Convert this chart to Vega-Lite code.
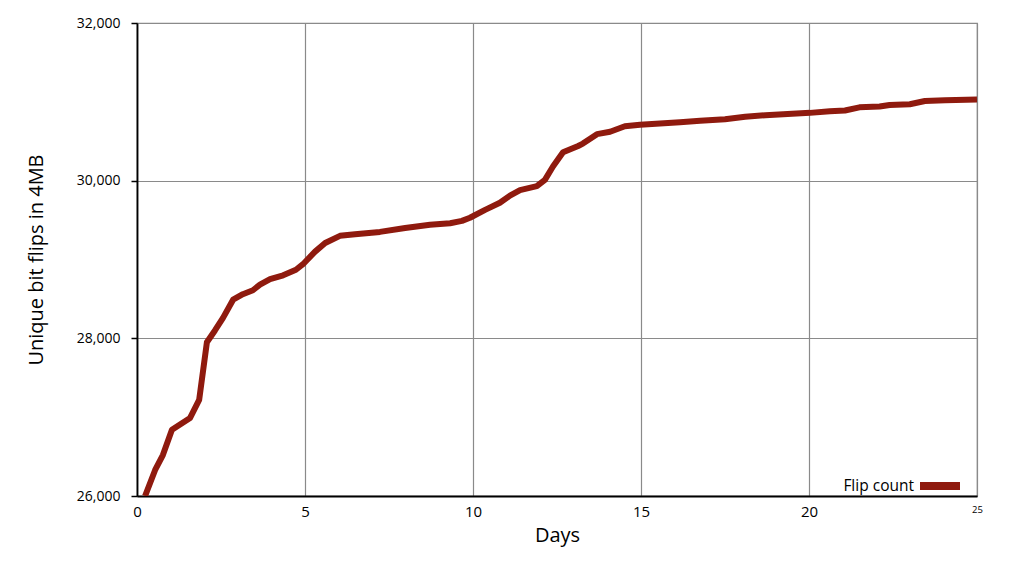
{
  "$schema": "https://vega.github.io/schema/vega-lite/v6.json",
  "width": 840,
  "height": 473,
  "autosize": "none",
  "padding": {"left": 137, "top": 23, "right": 47, "bottom": 79},
  "background": "white",
  "config": {
    "font": "Open Sans",
    "view": {"stroke": "#888888", "strokeWidth": 1.2},
    "axis": {"gridColor": "#8a8a8a", "gridWidth": 1.2, "gridOpacity": 1}
  },
  "data": {
    "values": [
      {"day": 0.24, "flips": 26000, "series": "Flip count"},
      {"day": 0.54, "flips": 26330, "series": "Flip count"},
      {"day": 0.77, "flips": 26520, "series": "Flip count"},
      {"day": 1.04, "flips": 26840, "series": "Flip count"},
      {"day": 1.58, "flips": 26990, "series": "Flip count"},
      {"day": 1.85, "flips": 27220, "series": "Flip count"},
      {"day": 2.08, "flips": 27950, "series": "Flip count"},
      {"day": 2.32, "flips": 28100, "series": "Flip count"},
      {"day": 2.56, "flips": 28260, "series": "Flip count"},
      {"day": 2.86, "flips": 28490, "series": "Flip count"},
      {"day": 3.15, "flips": 28560, "series": "Flip count"},
      {"day": 3.45, "flips": 28610, "series": "Flip count"},
      {"day": 3.66, "flips": 28680, "series": "Flip count"},
      {"day": 3.96, "flips": 28750, "series": "Flip count"},
      {"day": 4.35, "flips": 28800, "series": "Flip count"},
      {"day": 4.73, "flips": 28870, "series": "Flip count"},
      {"day": 4.94, "flips": 28940, "series": "Flip count"},
      {"day": 5.3, "flips": 29100, "series": "Flip count"},
      {"day": 5.6, "flips": 29210, "series": "Flip count"},
      {"day": 6.04, "flips": 29300, "series": "Flip count"},
      {"day": 6.49, "flips": 29320, "series": "Flip count"},
      {"day": 7.23, "flips": 29350, "series": "Flip count"},
      {"day": 7.98, "flips": 29400, "series": "Flip count"},
      {"day": 8.72, "flips": 29440, "series": "Flip count"},
      {"day": 9.32, "flips": 29460, "series": "Flip count"},
      {"day": 9.67, "flips": 29490, "series": "Flip count"},
      {"day": 9.91, "flips": 29530, "series": "Flip count"},
      {"day": 10.36, "flips": 29630, "series": "Flip count"},
      {"day": 10.8, "flips": 29720, "series": "Flip count"},
      {"day": 11.1, "flips": 29810, "series": "Flip count"},
      {"day": 11.4, "flips": 29880, "series": "Flip count"},
      {"day": 11.9, "flips": 29930, "series": "Flip count"},
      {"day": 12.14, "flips": 30010, "series": "Flip count"},
      {"day": 12.38, "flips": 30180, "series": "Flip count"},
      {"day": 12.68, "flips": 30360, "series": "Flip count"},
      {"day": 13.13, "flips": 30440, "series": "Flip count"},
      {"day": 13.27, "flips": 30470, "series": "Flip count"},
      {"day": 13.69, "flips": 30590, "series": "Flip count"},
      {"day": 14.08, "flips": 30620, "series": "Flip count"},
      {"day": 14.52, "flips": 30690, "series": "Flip count"},
      {"day": 14.97, "flips": 30710, "series": "Flip count"},
      {"day": 16.16, "flips": 30740, "series": "Flip count"},
      {"day": 16.76, "flips": 30760, "series": "Flip count"},
      {"day": 17.5, "flips": 30780, "series": "Flip count"},
      {"day": 18.1, "flips": 30810, "series": "Flip count"},
      {"day": 18.7, "flips": 30830, "series": "Flip count"},
      {"day": 20.03, "flips": 30860, "series": "Flip count"},
      {"day": 20.62, "flips": 30880, "series": "Flip count"},
      {"day": 21.07, "flips": 30890, "series": "Flip count"},
      {"day": 21.5, "flips": 30930, "series": "Flip count"},
      {"day": 22.1, "flips": 30940, "series": "Flip count"},
      {"day": 22.4, "flips": 30960, "series": "Flip count"},
      {"day": 23.0, "flips": 30970, "series": "Flip count"},
      {"day": 23.45, "flips": 31010, "series": "Flip count"},
      {"day": 24.05, "flips": 31020, "series": "Flip count"},
      {"day": 25.0, "flips": 31030, "series": "Flip count"}
    ]
  },
  "mark": {"type": "line", "strokeWidth": 6, "strokeJoin": "round", "clip": true},
  "encoding": {
    "x": {
      "field": "day",
      "type": "quantitative",
      "scale": {"domain": [0, 25], "nice": false},
      "axis": {
        "title": "Days",
        "values": [0, 5, 10, 15, 20, 25],
        "format": "d",
        "domainColor": "black",
        "domainWidth": 1.8,
        "ticks": false,
        "labelColor": "black",
        "labelFlush": false,
        "labelFontSize": {"expr": "datum.value == 25 ? 9.5 : 15"},
        "labelPadding": 8,
        "titleFontSize": 20,
        "titleFontWeight": "normal",
        "titleColor": "black",
        "titlePadding": 6
      }
    },
    "y": {
      "field": "flips",
      "type": "quantitative",
      "scale": {"domain": [26000, 32000], "nice": false, "zero": false},
      "axis": {
        "title": "Unique bit flips in 4MB",
        "values": [26000, 28000, 30000, 32000],
        "format": ",d",
        "domainColor": "black",
        "domainWidth": 1.8,
        "tickColor": "black",
        "tickSize": 6,
        "tickWidth": 1.5,
        "labelColor": "black",
        "labelFlush": false,
        "labelFontSize": 14,
        "labelPadding": 11,
        "titleFontSize": 20,
        "titleFontWeight": "normal",
        "titleColor": "black",
        "titlePadding": 30
      }
    },
    "color": {
      "field": "series",
      "type": "nominal",
      "scale": {"range": ["#8f1a0e"]},
      "legend": {
        "title": null,
        "orient": "none",
        "legendX": 779,
        "legendY": 439,
        "symbolType": "stroke",
        "symbolStrokeWidth": 8,
        "symbolSize": 1600,
        "labelAlign": "right",
        "labelOffset": -50,
        "labelFontSize": 15.5,
        "labelColor": "black",
        "padding": 0
      }
    }
  }
}
